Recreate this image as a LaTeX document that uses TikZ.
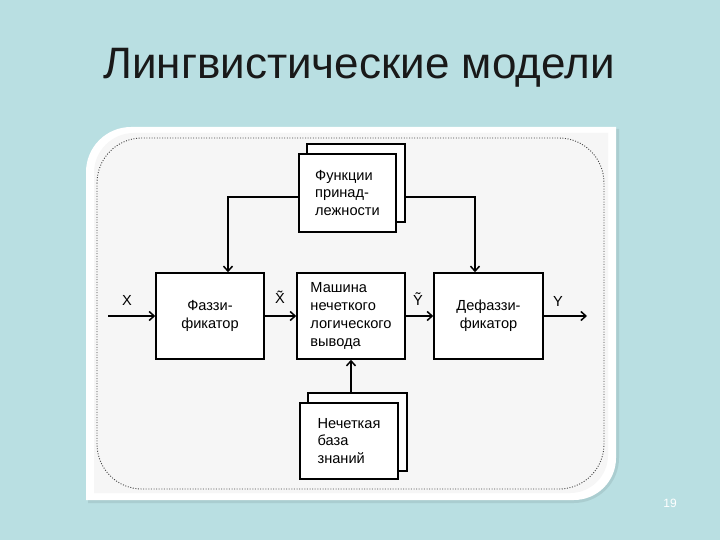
\documentclass[tikz,border=0pt]{standalone}
\usepackage{fontspec}
\setmainfont{Liberation Sans}
\usetikzlibrary{arrows.meta}
\definecolor{slidebg}{RGB}{185,223,226}
\definecolor{panelgrey}{RGB}{246,246,246}
\definecolor{framegrey}{RGB}{70,70,70}
\tikzset{
  blk/.style={draw=black, line width=1.5pt, fill=white, rectangle, inner sep=0pt, font=\fontsize{14.6}{17.8}\selectfont},
  lbl/.style={font=\fontsize{14.6}{16}\selectfont, inner sep=0pt},
  arr/.style={line width=1.5pt, -{Straight Barb[length=5pt,width=9pt,line width=1.5pt]}},
  conn/.style={line width=1.5pt}
}
\begin{document}
\begin{tikzpicture}[x=1pt,y=-1pt]
\useasboundingbox (0,0) rectangle (720,540);
\fill[slidebg] (0,0) rectangle (720,540);
% title
\node[font=\fontsize{44}{50}\selectfont, text=black!90, inner sep=0pt] (title) at (359,68) {Лингвистические модели};
% panel shadow
\fill[black, opacity=0.08] (88,503) -- (88,300) [rounded corners=45pt] -- (88,129) [sharp corners] -- (619,129) -- (619,300) [rounded corners=45pt] -- (619,503) [sharp corners] -- cycle;
% panel
\fill[white] (86,500) -- (86,300) [rounded corners=45pt] -- (86,127) [sharp corners] -- (616,127) -- (616,300) [rounded corners=42pt] -- (616,500) [sharp corners] -- cycle;
\fill[panelgrey] (94,493) -- (94,300) [rounded corners=40pt] -- (94,133) [sharp corners] -- (608,133) -- (608,300) [rounded corners=38pt] -- (608,493) [sharp corners] -- cycle;
\draw[framegrey, line width=0.9pt, dash pattern=on 1pt off 1.6pt, rounded corners=45pt] (97,138) rectangle (604,489);
% back boxes
\node[blk, minimum width=98pt, minimum height=78pt] (funcback) at (356,183) {};
\node[blk, minimum width=99pt, minimum height=78pt] (kbback) at (357.5,432) {};
% main boxes
\node[blk, minimum width=97pt, minimum height=78pt, align=left] (func) at (347.5,193) {Функции\\принад-\\лежности};
\node[blk, minimum width=98pt, minimum height=76pt, align=left] (kb) at (349,441) {Нечеткая\\база\\знаний};
\node[blk, minimum width=108pt, minimum height=86pt, align=center] (fuzz) at (210,316) {Фаззи-\\фикатор};
\node[blk, minimum width=108pt, minimum height=86pt, align=left] (mach) at (351,316) {Машина\\нечеткого\\логического\\вывода};
\node[blk, minimum width=109pt, minimum height=86pt, align=center] (defuzz) at (488.5,316) {Дефаззи-\\фикатор};
% labels
\node[lbl] (lx) at (127,300) {X};
\node[lbl] (lxt) at (280,297) {\~{X}};
\node[lbl] (lyt) at (418,299) {\~{Y}};
\node[lbl] (ly) at (558,301) {Y};
% free ends
\coordinate (xin) at (108,316);
\coordinate (yout) at (587,316);
\coordinate (fr) at ([yshift=-4pt]func.west -| funcback.east);
% connectors
\draw[arr] (xin) -- (fuzz.west);
\draw[arr] (fuzz.east) -- (mach.west);
\draw[arr] (mach.east) -- (defuzz.west);
\draw[arr] (defuzz.east) -- (yout);
\draw[arr] ([yshift=-4pt]func.west) -| ([xshift=18pt]fuzz.north);
\draw[arr] (fr) -| ([xshift=-13.5pt]defuzz.north);
\draw[arr] (mach.south |- kbback.north) -- (mach.south);
% page number
\node[font=\fontsize{12}{14}\selectfont, text=white, inner sep=0pt] (pnum) at (670,503) {19};
\end{tikzpicture}
\end{document}
